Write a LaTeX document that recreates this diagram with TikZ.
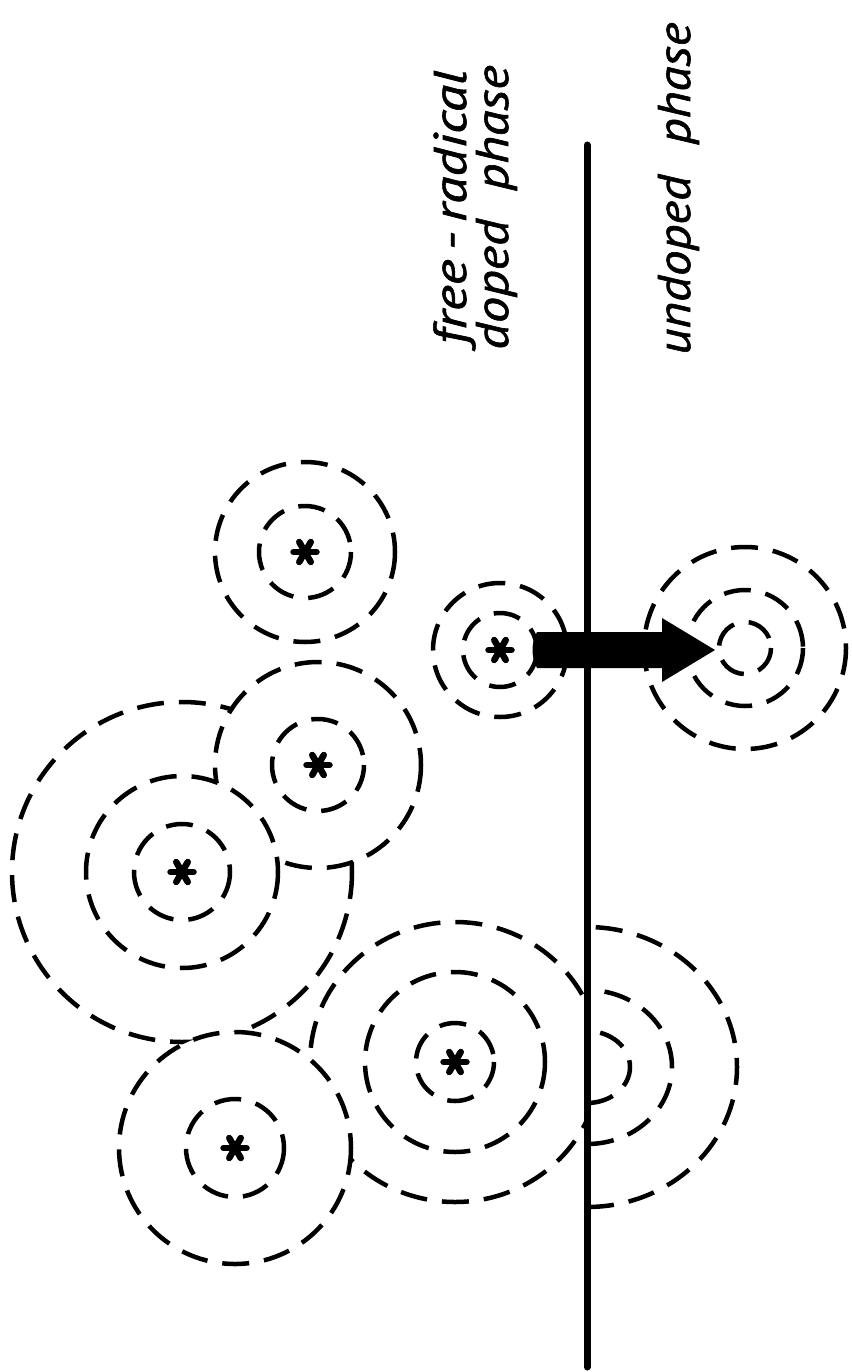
\documentclass[tikz,border=0pt]{standalone}
\usepackage{fontspec}
\newfontfamily\lab{PT Sans}[ItalicFeatures={FakeBold=1.2}]
\usetikzlibrary{calc}
\begin{document}
\begin{tikzpicture}[x=1pt,y=-1pt,
  ring/.style={line width=4.5pt, dash pattern=on 27pt off 15pt, fill=white},
  halfring/.style={line width=4.5pt, dash pattern=on 27pt off 15pt},
  starline/.style={line width=6.5pt, line cap=round},
  lbl/.style={rotate=90, anchor=base west, inner sep=0pt, font=\lab\itshape\fontsize{46}{54}\selectfont}]
\useasboundingbox (0,0) rectangle (851,1372);
% centres
\coordinate (g1) at (305,552);
\coordinate (g2) at (500,650);
\coordinate (g3) at (745,648);
\coordinate (g4) at (455,1062);
\coordinate (g5) at (182,872);
\coordinate (g6) at (318,765);
\coordinate (g7) at (235,1148);
\coordinate (img) at (587,1067);
% back to front
\draw[ring] (g5) circle[radius=170];
\draw[ring] (g6) circle[radius=103];
\draw[ring] (g5) circle[radius=96];
\draw[ring] (g5) circle[radius=48];
\draw[ring] (g6) circle[radius=46];
\begin{scope}
  \clip (0,0) rectangle (587,1372);
  \draw[ring] (g4) circle[x radius=145, y radius=140];
\end{scope}
\draw[ring] (g4) circle[radius=90];
\draw[ring] (g4) circle[radius=39];
\draw[ring] (g7) circle[radius=116];
\draw[ring] (g7) circle[radius=49];
\draw[ring] (g1) circle[radius=90];
\draw[ring] (g1) circle[radius=46];
\draw[ring] (g2) circle[radius=67];
\draw[ring] (g2) circle[radius=37];
\draw[ring] (g3) circle[radius=101];
\draw[ring] (g3) circle[radius=58];
\draw[ring] (g3) circle[radius=26];
% interface line
\coordinate (ltop) at (587,145);
\coordinate (lbot) at (587,1367);
\draw[line width=7pt, line cap=round] (ltop) -- (lbot);
% image half rings
\draw[halfring] ($(img)+(0,36)$) arc[start angle=90, end angle=-90, x radius=43, y radius=36];
\draw[halfring] ($(img)+(0,77)$) arc[start angle=90, end angle=-90, x radius=85, y radius=77];
\draw[halfring] ($(img)+(0,140)$) arc[start angle=90, end angle=-90, x radius=150, y radius=140];
% arrow
\fill ($(g2)+(37,-18)$) -- ($(g3)+(-83,-16)$) -- ($(g3)+(-83,-30)$) -- ($(g3)+(-30,2)$)
  -- ($(g3)+(-83,34)$) -- ($(g3)+(-83,20)$) -- ($(g2)+(37,18)$)
  .. controls ($(g2)+(31,8)$) and ($(g2)+(31,-8)$) .. cycle;
% stars
\foreach \c in {g1,g2,g4,g5,g6,g7}{
  \foreach \a in {0,60,120}{
    \draw[starline] ($(\c)+(\a:11.5)$) -- ($(\c)+(\a+180:11.5)$);
  }
}
% labels
\node[lbl] (t1) at (466,345) {\scalebox{1.21}[1]{free\,-\,radical}};
\node[lbl] (t2) at (508,350) {\scalebox{1.14}[1]{doped\hspace{0.55em}phase}};
\node[lbl] (t3) at (690,355) {\scalebox{1.11}[1]{undoped\hspace{0.6em}phase}};
\end{tikzpicture}
\end{document}
